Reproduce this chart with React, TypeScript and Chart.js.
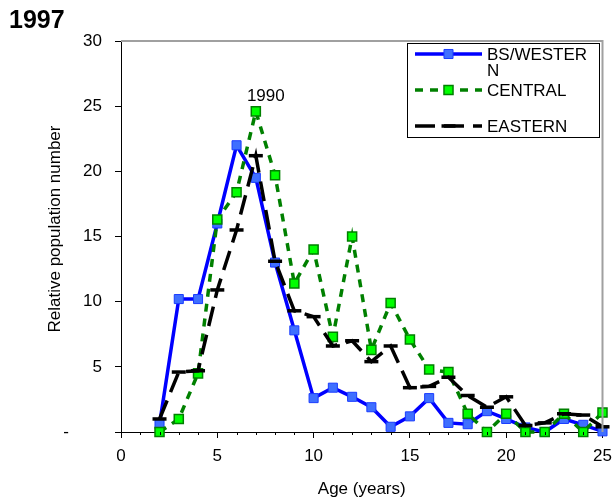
import React, { useEffect, useRef } from "react";
import { Chart, registerables } from "chart.js";

Chart.register(...registerables);

const ages = [2, 3, 4, 5, 6, 7, 8, 9, 10, 11, 12, 13, 14, 15, 16, 17, 18, 19, 20, 21, 22, 23, 24, 25];
const western = [0.6, 10.2, 10.2, 16.0, 22.0, 19.5, 13.0, 7.8, 2.6, 3.4, 2.7, 1.9, 0.4, 1.2, 2.6, 0.7, 0.6, 1.6, 1.0, 0.35, 0.0, 1.0, 0.55, 0.05];
const central = [0, 1.0, 4.5, 16.3, 18.4, 24.6, 19.7, 11.4, 14.0, 7.3, 15.0, 6.3, 9.9, 7.1, 4.8, 4.6, 1.4, 0, 1.4, 0, 0, 1.4, 0, 1.5];
const eastern = [1.0, 4.6, 4.7, 10.9, 15.5, 21.2, 13.1, 9.3, 8.85, 6.6, 7.0, 5.4, 6.6, 3.4, 3.5, 4.2, 2.8, 1.9, 2.7, 0.5, 0.7, 1.4, 1.3, 0.4];
const seriesLabels = ["BS/WESTERN", "CENTRAL", "EASTERN"];
const legendLines = [["BS/WESTER", "N"], ["CENTRAL"], ["EASTERN"]];
const chartTitle = "1997";
const annotationText = "1990";
const annotationIndex = 5;
const xTitle = "Age (years)";
const yTitle = "Relative population number";

const FONT = "'Liberation Sans', Arial, sans-serif";

const extrasPlugin = {
  id: "extras",
  afterDraw(chart: any) {
    const { ctx, chartArea, scales } = chart;
    const x = scales.x;
    ctx.save();
    // gray frame (top, right)
    ctx.strokeStyle = "#a0a0a0";
    ctx.lineWidth = 2;
    ctx.beginPath();
    ctx.moveTo(chartArea.left, chartArea.top);
    ctx.lineTo(chartArea.right, chartArea.top);
    ctx.lineTo(chartArea.right, chartArea.bottom);
    ctx.stroke();
    // minor ticks on x
    ctx.strokeStyle = "#000";
    ctx.lineWidth = 1;
    ctx.beginPath();
    for (let v = 1; v < 25; v++) {
      if (v % 5 === 0) continue;
      const px = Math.round(x.getPixelForValue(v)) + 0.5;
      ctx.moveTo(px, chartArea.bottom);
      ctx.lineTo(px, chartArea.bottom + 3);
    }
    ctx.stroke();
    // title
    ctx.fillStyle = "#000";
    ctx.font = `bold 25px ${FONT}`;
    ctx.textAlign = "left";
    ctx.textBaseline = "middle";
    ctx.fillText(chartTitle, 9, 21);
    // y axis title
    ctx.save();
    ctx.translate(55, 229);
    ctx.rotate(-Math.PI / 2);
    ctx.font = `17px ${FONT}`;
    ctx.textAlign = "center";
    ctx.textBaseline = "middle";
    ctx.fillText(yTitle, 0, 0);
    ctx.restore();
    // annotation
    const meta = chart.getDatasetMeta(1);
    const pt = meta.data[annotationIndex];
    ctx.font = `17px ${FONT}`;
    ctx.textAlign = "center";
    ctx.textBaseline = "middle";
    ctx.fillText(annotationText, pt.x + 10, pt.y - 15);
    // legend
    const bx = 407, by = 43, bw = 192, bh = 94;
    ctx.fillStyle = "#fff";
    ctx.fillRect(bx, by, bw, bh);
    ctx.strokeStyle = "#000";
    ctx.lineWidth = 1;
    ctx.strokeRect(bx + 0.5, by + 0.5, bw, bh);
    const rows = [54, 90, 126];
    chart.data.datasets.forEach((ds: any, i: number) => {
      const y = rows[i];
      ctx.save();
      ctx.strokeStyle = ds.borderColor;
      ctx.lineWidth = ds.borderWidth;
      ctx.setLineDash(ds.borderDash || []);
      ctx.beginPath();
      ctx.moveTo(415, y);
      ctx.lineTo(482, y);
      ctx.stroke();
      ctx.setLineDash([]);
      if (ds.pointStyle === "rect") {
        const s = ds.pointRadius * Math.SQRT1_2;
        ctx.fillStyle = ds.pointBackgroundColor;
        ctx.strokeStyle = ds.pointBorderColor;
        ctx.lineWidth = ds.pointBorderWidth;
        ctx.beginPath();
        ctx.rect(448.5 - s, y - s, 2 * s, 2 * s);
        ctx.fill();
        ctx.stroke();
      } else {
        ctx.strokeStyle = ds.pointBorderColor;
        ctx.lineWidth = ds.pointBorderWidth;
        ctx.beginPath();
        ctx.moveTo(448.5 - ds.pointRadius, y);
        ctx.lineTo(448.5 + ds.pointRadius, y);
        ctx.stroke();
      }
      ctx.restore();
      ctx.fillStyle = "#000";
      ctx.font = `17px ${FONT}`;
      ctx.textAlign = "left";
      ctx.textBaseline = "middle";
      legendLines[i].forEach((t, j) => ctx.fillText(t, 487, y + 1 + j * 16));
    });
    ctx.restore();
  },
};

export default function App() {
  const ref = useRef<HTMLCanvasElement | null>(null);
  useEffect(() => {
    if (!ref.current) return;
    const mk = (vals: number[]) => ages.map((a, i) => ({ x: a, y: vals[i] }));
    const chart = new Chart(ref.current, {
      type: "line",
      data: {
        datasets: [
          {
            label: seriesLabels[0],
            data: mk(western),
            borderColor: "#0000ff",
            borderWidth: 3.5,
            pointStyle: "rect",
            pointRadius: 6.4,
            pointBackgroundColor: "#3f6fff",
            pointBorderColor: "#1a3cff",
            pointBorderWidth: 1,
            tension: 0,
            order: 3,
            clip: false,
          },
          {
            label: seriesLabels[1],
            data: mk(central),
            borderColor: "#008000",
            borderWidth: 3.5,
            borderDash: [8, 7],
            pointStyle: "rect",
            pointRadius: 6.4,
            pointBackgroundColor: "#00ff00",
            pointBorderColor: "#008000",
            pointBorderWidth: 1.5,
            tension: 0,
            order: 2,
            clip: false,
          },
          {
            label: seriesLabels[2],
            data: mk(eastern),
            borderColor: "#000000",
            borderWidth: 3.5,
            borderDash: [20, 9],
            pointStyle: "line",
            pointRadius: 7,
            pointBorderColor: "#000000",
            pointBackgroundColor: "#000000",
            pointBorderWidth: 3.5,
            tension: 0,
            order: 1,
            clip: false,
          },
        ] as any,
      },
      options: {
        animation: false,
        responsive: false,
        layout: { padding: { top: 41, right: 10, left: 0, bottom: 0 } },
        plugins: { legend: { display: false }, title: { display: false }, tooltip: { enabled: false } },
        events: [],
        scales: {
          x: {
            type: "linear",
            min: 0,
            max: 25,
            afterFit: (s: any) => { s.height = 72; s.paddingLeft = 0; s.paddingRight = 0; },
            grid: { drawOnChartArea: false, drawTicks: true, tickLength: 6, tickColor: "#000" },
            border: { color: "#000", width: 1 },
            ticks: { stepSize: 5, color: "#000", padding: 8, font: { family: FONT, size: 17 }, maxRotation: 0 },
            title: { display: true, text: xTitle, color: "#000", font: { family: FONT, size: 17 }, padding: { top: 0, bottom: 4 } },
          },
          y: {
            min: 0,
            max: 30,
            afterFit: (s: any) => { s.width = 121; s.paddingTop = 0; s.paddingBottom = 0; },
            grid: { drawOnChartArea: false, drawTicks: true, tickLength: 6, tickColor: "#000" },
            border: { color: "#000", width: 1 },
            ticks: {
              stepSize: 5,
              color: "#000",
              padding: 13,
              font: { family: FONT, size: 17 },
              callback: (v: any) => (v === 0 ? "-       " : String(v)),
            },
          },
        },
      },
      plugins: [extrasPlugin],
    });
    return () => chart.destroy();
  }, []);
  return (
    <div style={{ position: "absolute", left: 0, top: 0, width: 613, height: 504, background: "#fff" }}>
      <canvas ref={ref} width={613} height={504} style={{ display: "block" }} />
    </div>
  );
}
